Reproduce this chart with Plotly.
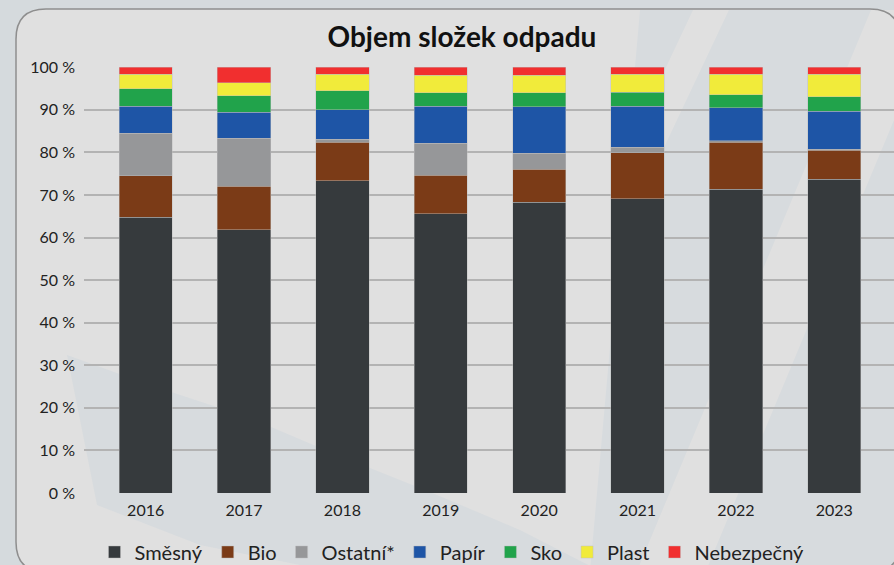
import plotly.graph_objects as go

# ---- data (percent share of each waste component) ----
years = ["2016", "2017", "2018", "2019", "2020", "2021", "2022", "2023"]
smesny = [64.8, 61.8, 73.3, 65.6, 68.3, 69.1, 71.3, 73.7]
bio = [9.7, 10.3, 9.1, 9.0, 7.7, 10.8, 11.1, 6.8]
ostatni = [10.0, 11.2, 0.7, 7.6, 3.8, 1.3, 0.3, 0.2]
papir = [6.3, 6.1, 6.9, 8.6, 10.9, 9.6, 7.8, 8.9]
sko = [4.2, 3.9, 4.5, 3.2, 3.3, 3.3, 3.0, 3.5]
plast = [3.3, 3.1, 3.9, 4.1, 4.1, 4.3, 4.9, 5.3]
nebezpecny = [1.7, 3.6, 1.6, 1.9, 1.9, 1.6, 1.6, 1.6]

series_names = ["Směsný", "Bio", "Ostatní*", "Papír", "Sko", "Plast", "Nebezpečný"]
series_values = [smesny, bio, ostatni, papir, sko, plast, nebezpecny]
series_colors = ["#363a3d", "#7b3b17", "#969799", "#1e55a6", "#21a34b", "#f1eb3a", "#f12f2f"]

y_tickvals = [0, 10, 20, 30, 40, 50, 60, 70, 80, 90, 100]
y_ticktext = ["0 %", "10 %", "20 %", "30 %", "40 %", "50 %", "60 %", "70 %", "80 %", "90 %", "100 %"]

title_text = "Objem složek odpadu"

# ---- layout geometry ----
W, H = 894, 565
ML, MR, MT, MB = 84, 0, 67, 72
PW = W - ML - MR
PH = H - MT - MB
FONT = "Lato"


def px(x):
    return (x - ML) / PW


def py(y):
    return (H - MB - y) / PH


fig = go.Figure()
for name, vals, col in zip(series_names, series_values, series_colors):
    fig.add_trace(go.Bar(
        x=years, y=vals, name=name,
        marker=dict(color=col, line=dict(color="rgba(190,190,190,0.55)", width=0.8)),
    ))

shapes = []


def poly(points, fill, line_color=None, line_width=0):
    d = "M " + " L ".join(f"{px(a):.5f},{py(b):.5f}" for a, b in points) + " Z"
    shapes.append(dict(type="path", path=d, xref="paper", yref="paper",
                       fillcolor=fill, line=dict(width=line_width, color=line_color or fill),
                       layer="below"))


# panel with rounded corners
L, T, R, B, r = 16, 9, 900, 572, 30
panel = (f"M {px(L)},{py(T + r)} Q {px(L)},{py(T)} {px(L + r)},{py(T)} "
         f"L {px(R - r)},{py(T)} Q {px(R)},{py(T)} {px(R)},{py(T + r)} "
         f"L {px(R)},{py(B - r)} Q {px(R)},{py(B)} {px(R - r)},{py(B)} "
         f"L {px(L + r)},{py(B)} Q {px(L)},{py(B)} {px(L)},{py(B - r)} Z")
shapes.append(dict(type="path", path=panel, xref="paper", yref="paper",
                   fillcolor="#e0e0e0", line=dict(width=0), layer="below"))

blue = "#d7dbde"
light = "#e0e0e0"
# decorative bluish areas inside the panel
poly([(640, 10), (899, 10), (899, 571), (590, 571)], blue)
poly([(693, 10), (729, 10), (464, 571), (428, 571)], light)
poly([(871, 10), (940, 10), (706, 571), (637, 571)], light)
poly([(67, 355), (150, 385), (250, 418), (330, 452), (430, 492), (520, 530), (600, 571),
      (330, 571), (200, 545), (97, 505)], blue)

# panel border on top
shapes.append(dict(type="path", path=panel, xref="paper", yref="paper",
                   fillcolor="rgba(0,0,0,0)", line=dict(width=1.5, color="#8e8e8e"),
                   layer="below"))

fig.update_layout(
    width=W, height=H,
    margin=dict(l=ML, r=MR, t=MT, b=MB, pad=0, autoexpand=False),
    paper_bgcolor="#d5dadd",
    plot_bgcolor="rgba(0,0,0,0)",
    barmode="stack",
    bargap=0.458,
    shapes=shapes,
    title=dict(text=f"<b>{title_text}</b>", x=462 / W, xanchor="center",
               y=1 - 37 / H, yanchor="middle", yref="container",
               font=dict(family=FONT, size=28, color="#111111")),
    font=dict(family=FONT, color="#222222"),
    legend=dict(orientation="h", xref="container", yref="container",
                x=452 / W, xanchor="center", y=1 - 552 / H, yanchor="middle",
                traceorder="normal", font=dict(family=FONT, size=20, color="#222222"),
                bgcolor="rgba(0,0,0,0)"),
    showlegend=True,
)
fig.update_xaxes(type="category", range=[-0.627, 7.607], showgrid=False, showline=False,
                 zeroline=False, ticks="", automargin=False,
                 tickfont=dict(family=FONT, size=16, color="#222222"),
                 ticklabelstandoff=6)
fig.update_yaxes(range=[0, 100.05], tickvals=y_tickvals, ticktext=y_ticktext,
                 showgrid=True, gridcolor="#b3b3b3", gridwidth=1.5, zeroline=False,
                 showline=False, ticks="", automargin=False,
                 tickfont=dict(family=FONT, size=16, color="#222222"),
                 ticklabelstandoff=8)

fig.write_html(
    "out.html",
    config={"displayModeBar": False},
    post_script="document.body.style.margin='0';document.body.style.overflow='hidden';",
)
